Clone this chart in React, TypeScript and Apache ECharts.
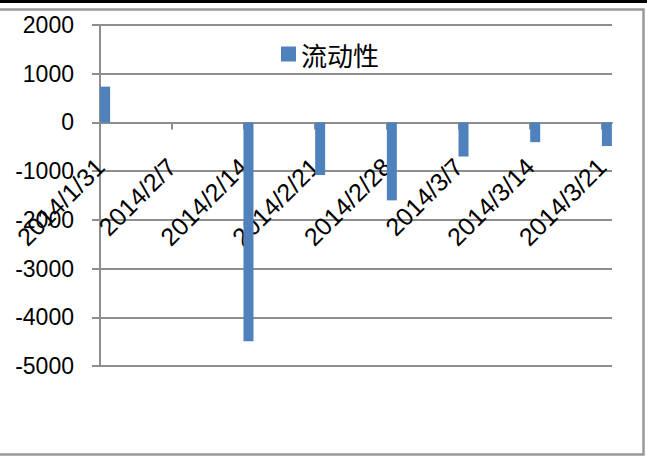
import React, { useEffect, useRef } from "react";
import * as echarts from "echarts";

const dates = ["2014/1/31", "2014/2/7", "2014/2/14", "2014/2/21", "2014/2/28", "2014/3/7", "2014/3/14", "2014/3/21"];
const liquidity: (number | null)[] = [735, null, -4490, -1080, -1600, -700, -405, -485];
const seriesName = "流动性";
const yTicks = [-5000, -4000, -3000, -2000, -1000, 0, 1000, 2000];

const DAY = 86400000;
const toTime = (s: string) => {
  const [y, m, d] = s.split("/").map(Number);
  return Date.UTC(y, m - 1, d);
};
const t0 = toTime(dates[0]);
const offsets = dates.map((s) => Math.round((toTime(s) - t0) / DAY));
const xMax = offsets[offsets.length - 1] + 1;

const W = 647;
const H = 456;
const G = { left: 100, right: 35, top: 25, bottom: 90 };

export default function App() {
  const ref = useRef<HTMLDivElement>(null);
  useEffect(() => {
    if (!ref.current) return;
    const chart = echarts.init(ref.current, null, { renderer: "svg" });
    const grid = "#8e8e8e";
    const yMin = yTicks[0];
    const yMax = yTicks[yTicks.length - 1];
    const plotH = H - G.top - G.bottom;
    const zeroOffset = -plotH * ((0 - yMin) / (yMax - yMin));
    chart.setOption({
      animation: false,
      backgroundColor: "#ffffff",
      textStyle: { fontFamily: "Liberation Sans" },
      graphic: [
        { type: "rect", shape: { x: 0, y: 0, width: W, height: 3 }, style: { fill: "#000" }, silent: true },
        {
          type: "rect",
          shape: { x: -5, y: 9.5, width: 648.5, height: 445 },
          style: { fill: "none", stroke: "#999999", lineWidth: 2.5 },
          silent: true,
        },
      ],
      legend: {
        left: 276,
        top: 36,
        itemWidth: 15,
        itemHeight: 15,
        icon: "rect",
        data: [seriesName],
        textStyle: { fontSize: 26, color: "#000", fontFamily: "Noto Sans CJK SC" },
      },
      grid: { ...G, containLabel: false, outerBoundsMode: "none" },
      xAxis: {
        type: "value",
        min: 0,
        max: xMax,
        offset: zeroOffset,
        splitLine: { show: false },
        axisLine: { show: true, onZero: false, lineStyle: { color: grid, width: 2 } },
        axisTick: { show: true, length: 7, customValues: offsets, lineStyle: { color: grid, width: 2 } },
        axisLabel: {
          customValues: offsets,
          rotate: 45,
          margin: 40,
          fontSize: 25,
          color: "#000",
          fontFamily: "Liberation Sans",
          hideOverlap: false,
          formatter: (v: number) => {
            const i = offsets.indexOf(Math.round(v));
            return i >= 0 ? dates[i] : "";
          },
        },
      },
      yAxis: {
        type: "value",
        min: yMin,
        max: yMax,
        interval: 1000,
        axisLine: { show: true, lineStyle: { color: grid, width: 2 } },
        axisTick: { show: true, inside: false, length: 8, lineStyle: { color: grid, width: 2 } },
        splitLine: { show: true, lineStyle: { color: grid, width: 2 } },
        axisLabel: {
          fontSize: 23,
          color: "#000",
          margin: 26,
          fontFamily: "Liberation Sans",
          formatter: (v: number) => String(v),
        },
      },
      series: [
        {
          name: seriesName,
          type: "bar",
          barWidth: 10,
          itemStyle: { color: "#4F81BD" },
          data: offsets.map((o, i) => [o + 0.5, liquidity[i]]),
        },
      ],
    });
    return () => chart.dispose();
  }, []);
  return <div ref={ref} style={{ position: "fixed", left: 0, top: 0, width: W, height: H }} />;
}
